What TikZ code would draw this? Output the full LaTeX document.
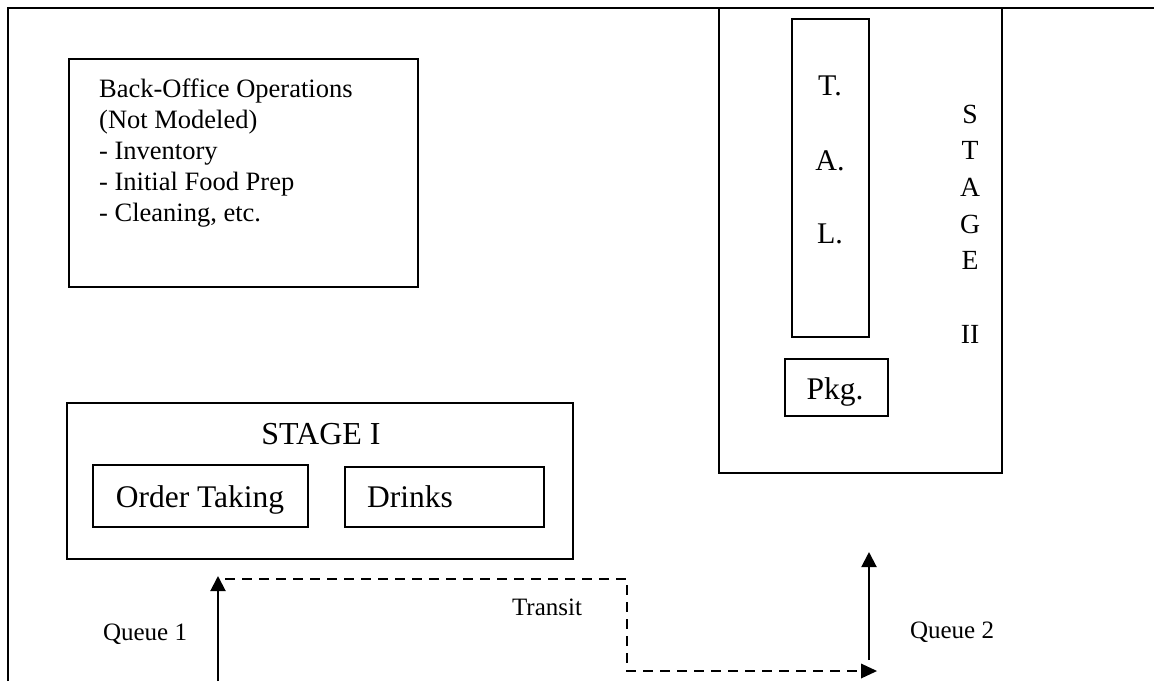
\documentclass[tikz,border=0pt]{standalone}
\usepackage{fontspec}
\setmainfont{Liberation Serif}
\usetikzlibrary{arrows.meta}
\begin{document}
\begin{tikzpicture}[x=1pt,y=-1pt,
  boxline/.style={draw,line width=1.6pt},
  frame/.style={line width=2.8pt},
  arr/.style={line width=2pt,-{Triangle[length=15pt,width=15pt]}},
  dsh/.style={line width=2pt,dash pattern=on 10pt off 7pt},
  lbl/.style={inner sep=0pt,anchor=base,font=\fontsize{25}{30}\selectfont},
  big/.style={inner sep=0pt,anchor=base,font=\fontsize{31.5}{36}\selectfont}]
\useasboundingbox (0,0) rectangle (1154,681);
\fill[white] (0,0) rectangle (1154,681);
% outer frame
\coordinate (fbl) at (8,681);
\coordinate (ftl) at (8,8);
\coordinate (ftr) at (1154,8);
\draw[frame] (fbl) -- (ftl) -- (ftr);
% back office
\draw[boxline] (69,59) rectangle (418,287);
\node[anchor=base west,align=left,inner sep=0pt,font=\fontsize{26.5}{31}\selectfont] (bo) at (99,221.5)
 {Back-Office Operations\\(Not Modeled)\\- Inventory\\- Initial Food Prep\\- Cleaning, etc.};
% stage I
\draw[boxline] (67,403) rectangle (573,559);
\node[big,font=\fontsize{32}{36}\selectfont] (s1) at (321,444) {STAGE I};
\draw[boxline] (93,465) rectangle (308,527);
\node[big] (ot) at (200,507) {Order Taking};
\draw[boxline] (345,467) rectangle (544,527);
\node[big,anchor=base west] (dr) at (367,507) {Drinks};
% stage II
\draw[boxline] (719,8) rectangle (1002,473);
\draw[boxline] (792,19) rectangle (869,337);
\node[big,font=\fontsize{30}{36}\selectfont] (t) at (830,95) {T.};
\node[big,font=\fontsize{30}{36}\selectfont] (a) at (830,170) {A.};
\node[big,font=\fontsize{30}{36}\selectfont] (l) at (830,243) {L.};
\draw[boxline] (785,359) rectangle (888,416);
\node[big] (pkg) at (835,399) {Pkg.};
\node[anchor=base,inner sep=0pt,align=center,font=\fontsize{27.7}{36.7}\selectfont] (s2) at (970,343.2) {S\\T\\A\\G\\E\\\\II};
% arrows
\coordinate (q1s) at (218,681);
\coordinate (q1e) at (218,576);
\draw[arr] (q1s) -- (q1e);
\coordinate (d0) at (225,579);
\coordinate (d1) at (627,579);
\coordinate (d2) at (627,671);
\coordinate (d3) at (877,671);
\draw[dsh] (d0) -- (d1) -- (d2) -- ([xshift=-15pt]d3);
\fill (d3) -- ++(-16,-7.5) -- ++(0,15) -- cycle;
\coordinate (q2s) at (869,660);
\coordinate (q2e) at (869,552);
\draw[arr] (q2s) -- (q2e);
\node[lbl] (q1) at (145,640) {Queue 1};
\node[lbl] (q2) at (952,638) {Queue 2};
\node[lbl] (tr) at (547,615) {Transit};
\end{tikzpicture}
\end{document}
